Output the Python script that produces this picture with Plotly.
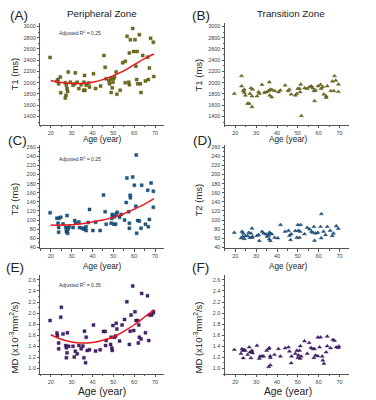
import plotly.graph_objects as go

# ---------------- data ----------------
A_age = [19.7, 24.6, 23.5, 23.0, 23.8, 24.8, 27.0, 27.5, 27.8, 28.1,
         27.3, 27.0, 28.4, 29.4, 30.7, 31.8, 31.5, 32.7, 33.5, 34.6,
         35.8, 36.4, 35.9, 36.2, 37.0, 38.2, 38.6, 40.5, 41.5, 43.9,
         45.5, 46.1, 46.6, 47.9, 48.2, 48.7, 49.0, 49.5, 49.8, 50.1,
         50.6, 51.4, 51.7, 53.3, 54.5, 55.8, 55.7, 56.6, 58.2, 57.7,
         57.4, 57.7, 59.3, 59.8, 60.4, 61.4, 60.8, 61.2, 61.7, 62.5,
         63.0, 63.3, 64.1, 65.4, 66.8, 67.3, 66.5, 67.9, 69.2, 69.4]
A_T1 = [2450, 2100, 2055, 2025, 1980, 1820, 2000, 1955, 1895, 1845,
        1775, 1730, 2190, 2010, 1955, 2175, 1980, 2010, 1895, 1965,
        1865, 1865, 2010, 2130, 1955, 1995, 1925, 2160, 1895, 1940,
        2485, 2275, 2070, 2030, 1980, 2070, 1825, 1910, 2010, 2070,
        2100, 2190, 1795, 1865, 2355, 2380, 2000, 2825, 2765, 2530,
        2010, 1965, 2965, 2555, 2765, 2555, 2295, 2055, 1980, 2855,
        1980, 1825, 2485, 2030, 2055, 2260, 2455, 2790, 2720, 2110]

B_age = [19.5, 23.0, 23.0, 23.8, 24.3, 24.8, 24.3, 25.9, 26.7, 27.0,
         27.5, 28.3, 28.0, 28.0, 30.4, 31.2, 31.5, 32.8, 33.9, 35.0,
         36.0, 36.3, 36.8, 36.5, 37.5, 37.6, 38.9, 40.7, 41.6, 43.9,
         45.3, 45.9, 46.8, 48.8, 49.5, 50.0, 50.8, 51.1, 51.4, 51.7,
         53.3, 54.5, 55.6, 56.5, 57.2, 57.7, 58.5, 58.0, 59.7, 60.9,
         61.2, 62.0, 62.5, 63.6, 63.6, 64.1, 65.8, 66.6, 67.6, 68.2,
         69.5, 69.4, 67.3]
B_T1 = [1805, 2120, 1940, 1855, 1825, 1775, 1880, 1630, 1630, 1805,
        1905, 1880, 1570, 1760, 1760, 1835, 1805, 1965, 1825, 1835,
        1855, 2010, 1880, 1775, 1745, 1875, 1855, 1835, 1865, 1955,
        1855, 1880, 1795, 1775, 1805, 1895, 1895, 1835, 1970, 1410,
        1905, 1895, 1925, 1940, 1905, 1855, 1865, 1675, 1940, 1965,
        1895, 1925, 1795, 1760, 1735, 1940, 1855, 2025, 2120, 2040,
        1970, 1840, 1855]

C_age = [19.7, 23.0, 24.0, 24.8, 23.5, 23.8, 23.8, 25.9, 27.2, 27.5,
         27.8, 27.8, 28.4, 28.1, 28.8, 30.7, 31.5, 32.0, 33.5, 33.8,
         35.1, 35.9, 36.5, 36.9, 37.0, 38.6, 38.0, 40.2, 41.5, 43.7,
         45.3, 46.1, 46.6, 49.0, 49.3, 49.5, 49.8, 50.3, 50.6, 51.1,
         51.4, 51.9, 53.0, 53.8, 55.4, 56.2, 56.5, 57.4, 57.7, 58.1,
         58.2, 57.7, 59.3, 60.1, 60.8, 61.7, 62.5, 61.2, 63.3, 63.6,
         65.4, 66.5, 66.8, 67.3, 68.1, 69.2, 69.2, 61.0]
C_T2 = [116, 104, 104, 106, 93, 83.5, 73.5, 91.5, 83.5, 76,
        73.5, 110, 80.5, 71, 85.5, 83.5, 99, 93, 96, 83.5,
        82, 80, 82, 85.5, 77, 123.5, 94.5, 77, 95, 77,
        155, 118.5, 91, 93, 104, 112.5, 109, 91, 107.5, 91,
        113.5, 117, 106, 112.5, 100, 138.5, 192.5, 118.5, 93, 154.5,
        149, 82, 194.5, 176.5, 130.5, 99, 98, 71, 82, 176.5,
        91, 165.5, 85.5, 101.5, 181.5, 163.5, 128, 243]

D_age = [19.5, 23.2, 23.8, 22.7, 23.5, 24.3, 24.8, 25.9, 26.4, 27.0,
         27.5, 28.0, 28.0, 28.3, 30.4, 31.2, 31.5, 32.8, 33.6, 34.7,
         35.2, 36.0, 36.3, 36.8, 37.5, 36.3, 36.8, 38.9, 40.4, 41.7,
         43.9, 45.5, 46.0, 46.5, 46.8, 48.8, 49.5, 50.0, 50.3, 50.8,
         51.3, 51.1, 53.2, 54.5, 55.6, 56.5, 57.7, 57.2, 58.0, 58.5,
         59.6, 60.9, 61.3, 61.2, 62.3, 63.3, 64.1, 65.5, 66.5, 67.1,
         68.4, 69.4]
D_T2 = [72.5, 75, 71, 60.5, 64, 59, 65.5, 65.5, 72.5, 61.5,
        71, 82, 61.5, 64, 66, 67.5, 54.5, 75, 71, 69,
        64, 66, 72.5, 71, 69.5, 58, 54.5, 61.5, 60.5, 89.5,
        75, 77, 66, 56.5, 69.5, 76.5, 61.5, 89.5, 77, 61.5,
        89.5, 75, 69.5, 83.5, 80, 75, 85.5, 72.5, 55, 71,
        72.5, 85.5, 113.5, 60.5, 75, 67.5, 85.5, 77, 65.5, 71,
        87, 81.5]

E_age = [19.7, 23.0, 23.2, 23.8, 23.8, 24.8, 25.1, 25.9, 27.2, 27.5,
         27.8, 27.5, 28.0, 28.6, 30.7, 31.3, 31.8, 32.7, 33.5, 34.6,
         35.4, 36.2, 35.9, 36.7, 37.0, 37.5, 38.6, 40.5, 41.5, 43.7,
         45.3, 46.1, 46.3, 46.6, 48.7, 49.0, 49.3, 49.5, 49.8, 50.6,
         51.1, 51.4, 51.7, 53.0, 54.2, 55.4, 56.5, 57.7, 58.1, 58.5,
         59.3, 59.8, 60.4, 60.9, 61.7, 62.0, 62.2, 62.5, 63.3, 63.6,
         65.4, 66.4, 67.0, 67.3, 68.4, 69.2, 69.2]
E_MD = [1.865, 1.64, 1.595, 1.46, 1.355, 1.925, 2.105, 1.625, 1.415, 1.375,
        1.285, 1.195, 1.645, 1.40, 1.40, 1.21, 1.31, 1.265, 1.415, 1.355,
        1.405, 1.675, 1.195, 1.105, 1.565, 1.325, 1.34, 1.785, 1.315, 1.34,
        1.67, 1.67, 1.415, 1.505, 1.435, 1.565, 1.37, 1.325, 1.775, 1.565,
        1.585, 1.815, 1.715, 1.495, 1.785, 1.885, 2.205, 1.435, 1.675, 1.965,
        2.49, 1.685, 2.025, 1.865, 1.865, 1.46, 1.785, 1.565, 1.535, 2.355,
        1.645, 2.315, 1.505, 1.965, 1.965, 2.03, 2.005]

F_age = [19.5, 22.7, 23.2, 23.5, 23.8, 24.3, 24.8, 25.9, 26.7, 27.0,
         27.5, 28.0, 28.3, 27.9, 30.4, 31.5, 31.8, 32.8, 33.6, 35.0,
         36.0, 36.3, 36.7, 36.8, 36.0, 36.8, 38.8, 40.7, 41.6, 43.9,
         45.5, 46.0, 46.8, 47.0, 48.8, 49.5, 50.0, 50.3, 50.8, 51.1,
         51.6, 51.2, 53.2, 54.5, 55.4, 56.3, 57.2, 57.7, 58.0, 58.5,
         59.6, 60.9, 59.6, 60.4, 61.7, 62.0, 62.5, 63.6, 64.1, 64.1,
         65.7, 66.8, 67.6, 68.4, 69.4, 69.7]
F_MD = [1.34, 1.27, 1.355, 1.325, 1.19, 1.34, 1.325, 1.25, 1.385, 1.295,
        1.19, 1.325, 1.28, 1.295, 1.415, 1.18, 1.22, 1.225, 1.22, 1.325,
        1.355, 1.375, 1.225, 1.195, 1.03, 1.06, 1.25, 1.355, 1.22, 1.37,
        1.385, 1.31, 1.10, 1.22, 1.27, 1.325, 1.195, 1.24, 1.325, 1.18,
        1.22, 1.405, 1.495, 1.27, 1.465, 1.375, 1.355, 1.195, 1.355, 1.24,
        1.565, 1.565, 1.225, 1.385, 1.22, 1.15, 1.09, 1.295, 1.58, 1.405,
        1.37, 1.52, 1.505, 1.385, 1.375, 1.40]

# quadratic fit curves
FIT_age = [20, 25, 30, 35, 40, 45, 50, 55, 60, 65, 69.5]
A_fit = [2040, 2005, 1988, 1988, 2010, 2055, 2125, 2210, 2320, 2430, 2510]
C_fit = [89, 89, 90, 92, 96, 100, 106, 114, 124, 135, 147]
E_fit = [1.61, 1.53, 1.48, 1.46, 1.47, 1.51, 1.57, 1.67, 1.79, 1.93, 2.06]

R2_text = ["Adjusted R<sup>2</sup> = 0.25", "Adjusted R<sup>2</sup> = 0.25",
           "Adjusted R<sup>2</sup> = 0.35"]
panel_labels = ["(A)", "(B)", "(C)", "(D)", "(E)", "(F)"]
zone_titles = ["Peripheral Zone", "Transition Zone"]
y_titles = ["T1 (ms)", "T2 (ms)", "MD (x10<sup>-3</sup>mm<sup>2</sup>/s)"]
x_title = "Age (year)"

# ---------------- styling ----------------
W, H = 376, 400
FONT = "Liberation Sans, Arial, sans-serif"
T1_COL, T1_EDGE = "#74701a", "#45420c"
T2_COL, T2_EDGE = "#1d5b88", "#0e3656"
MD_COL, MD_EDGE = "#4a2272", "#2a0f46"
FIT_COL = "#f0141e"
AX_COL = "#555555"
TICK_FONT = dict(family=FONT, size=5.5, color="#444444")


def px(x):
    return x / W


def py(y):
    return 1 - y / H


X_DOM = [[px(40.3), px(164.4)], [px(224.9), px(348.9)]]
ROWS = [
    dict(rng=[1250, 3060], dom=[py(124.8), py(22.3)], dtick=200, minor=100,
         tick0=1400, fmt="d"),
    dict(rng=[38, 264], dom=[py(249.2), py(145.5)], dtick=20, minor=10,
         tick0=40, fmt="d"),
    dict(rng=[0.9, 2.68], dom=[py(375.9), py(276.5)], dtick=0.2, minor=0.1,
         tick0=1.0, fmt=".1f"),
]

series = [
    (A_age, A_T1, "square", T1_COL, T1_EDGE),
    (B_age, B_T1, "triangle-up", T1_COL, T1_EDGE),
    (C_age, C_T2, "square", T2_COL, T2_EDGE),
    (D_age, D_T2, "triangle-up", T2_COL, T2_EDGE),
    (E_age, E_MD, "square", MD_COL, MD_EDGE),
    (F_age, F_MD, "triangle-up", MD_COL, MD_EDGE),
]
fits = {0: A_fit, 2: C_fit, 4: E_fit}

fig = go.Figure()
layout = {}
for i, (ages, vals, sym, col, edge) in enumerate(series):
    n = i + 1
    row, c = divmod(i, 2)
    xa = "x" if n == 1 else f"x{n}"
    ya = "y" if n == 1 else f"y{n}"
    fig.add_trace(go.Scatter(
        x=ages, y=vals, mode="markers", xaxis=xa, yaxis=ya, showlegend=False,
        marker=dict(symbol=sym, size=3 if sym == "square" else 3.6, color=col,
                    line=dict(color=edge, width=0.4))))
    if i in fits:
        fig.add_trace(go.Scatter(
            x=FIT_age, y=fits[i], mode="lines", xaxis=xa, yaxis=ya,
            showlegend=False, line=dict(color=FIT_COL, width=1.5,
                                        shape="spline")))
    r = ROWS[row]
    xkey = "xaxis" if n == 1 else f"xaxis{n}"
    ykey = "yaxis" if n == 1 else f"yaxis{n}"
    layout[xkey] = dict(
        domain=X_DOM[c], range=[15, 74.5], anchor=ya, tick0=20, dtick=10,
        showline=True, linecolor=AX_COL, linewidth=0.8, ticks="outside",
        ticklen=2.5, tickwidth=0.7, tickcolor=AX_COL, showgrid=False,
        zeroline=False, tickfont=TICK_FONT,
        minor=dict(dtick=5, tick0=15, ticks="outside", ticklen=1.5,
                   tickcolor=AX_COL, tickwidth=0.6))
    layout[ykey] = dict(
        domain=r["dom"], range=r["rng"], anchor=xa, tick0=r["tick0"],
        dtick=r["dtick"], tickformat=r["fmt"], showline=True,
        linecolor=AX_COL, linewidth=0.8,
        ticks="outside", ticklen=2.5, tickwidth=0.7, tickcolor=AX_COL,
        showgrid=False, zeroline=False, tickfont=TICK_FONT,
        minor=dict(dtick=r["minor"], ticks="outside", ticklen=1.5,
                   tickcolor=AX_COL, tickwidth=0.6))

ann = []


def add_text(text, x, y, size, xanchor="center", angle=0, color="#222222"):
    ann.append(dict(text=text, x=px(x), y=py(y), xref="paper", yref="paper",
                    xanchor=xanchor, yanchor="middle", showarrow=False,
                    textangle=angle,
                    font=dict(family=FONT, size=size, color=color)))


# panel labels
for lab, (x, y) in zip(panel_labels, [(19, 15), (201, 15), (17, 141),
                                      (202, 141), (15, 269), (201, 269)]):
    add_text(lab, x, y, 13.5)
# zone titles
add_text(zone_titles[0], 102, 13, 9.8)
add_text(zone_titles[1], 291, 13, 9.8)
# y titles
for row, yc in enumerate([74, 200, 339]):
    add_text(y_titles[row], 14, yc, 9.5, angle=-90)
    add_text(y_titles[row], 198, yc, 9.5, angle=-90)
# x titles
for yc, size in [(139.5, 8.2), (267.5, 8.2), (393, 10.3)]:
    add_text(x_title, 102, yc, size)
    add_text(x_title, 288, yc, size)
# R^2 labels
for txt, yc in zip(R2_text, [32, 159, 286]):
    add_text(txt, 57, yc, 5, xanchor="left", color="#333333")

fig.update_layout(
    width=W, height=H, margin=dict(l=0, r=0, t=0, b=0),
    paper_bgcolor="white", plot_bgcolor="white",
    font=dict(family=FONT), annotations=ann, **layout)

fig.write_html(
    "out.html",
    config={"displayModeBar": False},
    post_script="document.body.style.margin='0';"
                "document.body.style.overflow='hidden';")
